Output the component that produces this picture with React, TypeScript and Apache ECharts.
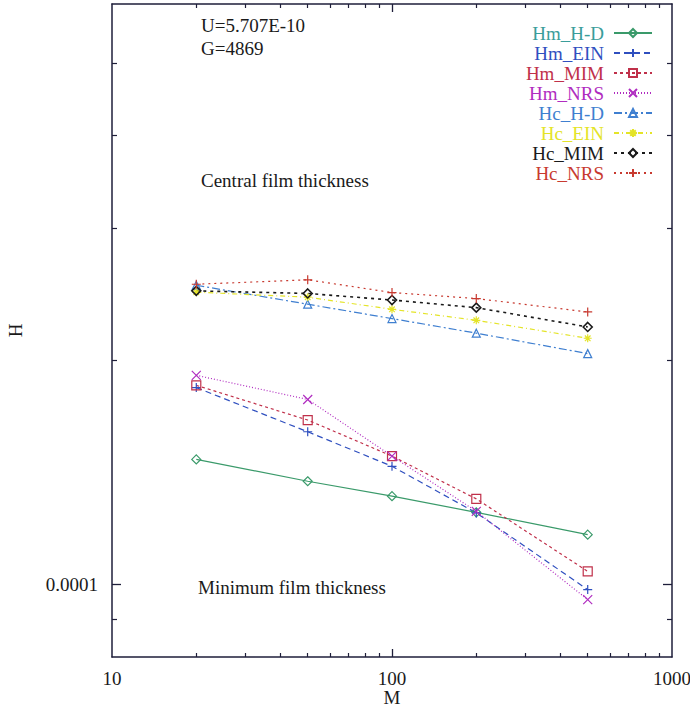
import React, { useEffect, useRef } from "react";
import * as echarts from "echarts";

// ---- data ----
const M = [20, 50, 100, 200, 500];
const hmHD = [1.472e-4, 1.376e-4, 1.314e-4, 1.25e-4, 1.167e-4];
const hmEIN = [1.837e-4, 1.603e-4, 1.441e-4, 1.248e-4, 0.985e-4];
const hmMIM = [1.85e-4, 1.662e-4, 1.487e-4, 1.303e-4, 1.042e-4];
const hmNRS = [1.908e-4, 1.771e-4, 1.487e-4, 1.254e-4, 0.955e-4];
const hcHD = [2.519e-4, 2.376e-4, 2.273e-4, 2.173e-4, 2.04e-4];
const hcEIN = [2.466e-4, 2.428e-4, 2.339e-4, 2.261e-4, 2.139e-4];
const hcMIM = [2.476e-4, 2.456e-4, 2.407e-4, 2.351e-4, 2.215e-4];
const hcNRS = [2.527e-4, 2.562e-4, 2.463e-4, 2.418e-4, 2.32e-4];

const seriesNames = ["Hm_H-D", "Hm_EIN", "Hm_MIM", "Hm_NRS", "Hc_H-D", "Hc_EIN", "Hc_MIM", "Hc_NRS"];
const seriesValues = [hmHD, hmEIN, hmMIM, hmNRS, hcHD, hcEIN, hcMIM, hcNRS];

const xLabelTicks = [10, 100, 1000];
const xMajorTicks = [100];
const xMinorTicks = [20, 30, 40, 50, 60, 70, 80, 90, 200, 300, 400, 500, 600, 700, 800, 900];
const yLabelTicks = [1e-4];
const yMajorTicks = [1e-4];
const yMinorTicks = [9e-5, 2e-4, 3e-4, 4e-4, 5e-4];

const annotations = [
  { text: "U=5.707E-10", x: 201, y: 25 },
  { text: "G=4869", x: 201, y: 48 },
  { text: "Central film thickness", x: 201, y: 180 },
  { text: "Minimum film thickness", x: 198, y: 587 },
];

// ---- styles ----
const SYM = {
  diamond: "path://M5,0L10,5L5,10L0,5Z",
  plus: "path://M5,0L5,10M0,5L10,5",
  square: "path://M0,0L10,0L10,10L0,10Z",
  cross: "path://M0,0L10,10M10,0L0,10",
  triangle: "path://M5,0L10,9L0,9Z",
  star: "path://M5,0L5,10M0,5L10,5M1.5,1.5L8.5,8.5M8.5,1.5L1.5,8.5",
};

const styles: any[] = [
  { line: "#3a9a6a", text: "#3a9d9a", sym: SYM.diamond, dash: "solid", size: 9, w: 1.2 },
  { line: "#2f4fbf", text: "#2f4fbf", sym: SYM.plus, dash: [6, 4], size: 9, w: 1.2 },
  { line: "#c0304a", text: "#c0304a", sym: SYM.square, dash: [3, 3], size: 9, w: 1.2 },
  { line: "#b02cc0", text: "#b02cc0", sym: SYM.cross, dash: [1, 2], size: 9, w: 1.2 },
  { line: "#3f7fd0", text: "#3f7fd0", sym: SYM.triangle, dash: [8, 3, 2, 3], size: 8, w: 1.2 },
  { line: "#e4e428", text: "#e4e428", sym: SYM.star, dash: [5, 3, 1, 3], size: 8, w: 1.2 },
  { line: "#1a1a1a", text: "#1a1a1a", sym: SYM.diamond, dash: [3, 4], size: 9, w: 1.6 },
  { line: "#c83a30", text: "#c83a30", sym: SYM.plus, dash: [2, 4], size: 9, w: 1.2 },
];

const FONT = '"Liberation Serif", "Times New Roman", serif';
const INK = "#1a1a1a";
const FRAME = "#1e1e3a";

export default function App() {
  const ref = useRef<HTMLDivElement>(null);

  useEffect(() => {
    if (!ref.current) return;
    const chart = echarts.init(ref.current, undefined, { renderer: "svg" });

    const xBase = { type: "log", logBase: 10, min: 10, max: 1000, gridIndex: 0, splitLine: { show: false } };
    const yBase = { type: "log", logBase: 10, min: 8e-5, max: 6e-4, gridIndex: 0, splitLine: { show: false } };
    const lineOn = { show: true, lineStyle: { color: FRAME, width: 1.5 } };
    const lineOff = { show: false };

    const xAxis: any[] = [
      {
        ...xBase,
        position: "bottom",
        axisLine: lineOn,
        axisTick: { show: true, inside: true, length: 8, customValues: xMajorTicks, lineStyle: { color: FRAME, width: 1.3 } },
        axisLabel: {
          show: true,
          customValues: xLabelTicks,
          margin: 12,
          fontFamily: FONT,
          fontSize: 19,
          color: INK,
          formatter: (v: number) => String(Math.round(v)),
        },
        name: "M",
        nameLocation: "middle",
        nameGap: 31,
        nameMoveOverlap: false,
        nameTextStyle: { fontFamily: FONT, fontSize: 19, color: INK },
      },
      {
        ...xBase,
        position: "bottom",
        axisLine: lineOff,
        axisTick: { show: true, inside: true, length: 4, customValues: xMinorTicks, lineStyle: { color: FRAME, width: 1.2 } },
        axisLabel: { show: false },
      },
      {
        ...xBase,
        position: "top",
        axisLine: lineOn,
        axisTick: { show: true, inside: true, length: 8, customValues: xMajorTicks, lineStyle: { color: FRAME, width: 1.3 } },
        axisLabel: { show: false },
      },
      {
        ...xBase,
        position: "top",
        axisLine: lineOff,
        axisTick: { show: true, inside: true, length: 4, customValues: xMinorTicks, lineStyle: { color: FRAME, width: 1.2 } },
        axisLabel: { show: false },
      },
    ];

    const yAxis: any[] = [
      {
        ...yBase,
        position: "left",
        axisLine: lineOn,
        axisTick: { show: true, inside: true, length: 9, customValues: yMajorTicks, lineStyle: { color: FRAME, width: 1.3 } },
        axisLabel: {
          show: true,
          customValues: yLabelTicks,
          margin: 14,
          fontFamily: FONT,
          fontSize: 19,
          color: INK,
          formatter: (v: number) => (Math.abs(v - 1e-4) < 1e-9 ? "0.0001" : String(v)),
        },
        name: "H",
        nameLocation: "middle",
        nameGap: 87,
        nameRotate: 90,
        nameMoveOverlap: false,
        nameTextStyle: { fontFamily: FONT, fontSize: 19, color: INK },
      },
      {
        ...yBase,
        position: "left",
        axisLine: lineOff,
        axisTick: { show: true, inside: true, length: 5, customValues: yMinorTicks, lineStyle: { color: FRAME, width: 1.2 } },
        axisLabel: { show: false },
      },
      {
        ...yBase,
        position: "right",
        axisLine: lineOn,
        axisTick: { show: true, inside: true, length: 9, customValues: yMajorTicks, lineStyle: { color: FRAME, width: 1.3 } },
        axisLabel: { show: false },
      },
      {
        ...yBase,
        position: "right",
        axisLine: lineOff,
        axisTick: { show: true, inside: true, length: 5, customValues: yMinorTicks, lineStyle: { color: FRAME, width: 1.2 } },
        axisLabel: { show: false },
      },
    ];

    const series: any[] = seriesNames.map((name, i) => {
      const s = styles[i];
      return {
        name,
        type: "line",
        xAxisIndex: 0,
        yAxisIndex: 0,
        data: M.map((m, j) => [m, seriesValues[i][j]]),
        symbol: s.sym,
        symbolSize: s.size,
        showSymbol: true,
        lineStyle: { color: s.line, width: s.w, type: s.dash },
        itemStyle: { color: "rgba(255,255,255,0)", borderColor: s.line, borderWidth: s.w },
        z: 3,
      };
    });

    const option: any = {
      animation: false,
      backgroundColor: "#ffffff",
      grid: { left: 112, right: 18, top: 4, bottom: 51, containLabel: false, outerBoundsMode: "none" },
      xAxis,
      yAxis,
      series,
      legend: {
        orient: "vertical",
        right: 37,
        top: 23,
        padding: 0,
        align: "right",
        itemWidth: 38,
        itemHeight: 10,
        itemGap: 0,
        selectedMode: false,
        textStyle: { fontFamily: FONT, fontSize: 19, lineHeight: 20, padding: [0, 5, 0, 0] },
        data: seriesNames.map((n, i) => ({ name: n, textStyle: { color: styles[i].text } })),
      },
      graphic: annotations.map((a) => ({
        type: "text",
        x: a.x,
        y: a.y,
        style: { text: a.text, fontFamily: FONT, fontSize: 19, fill: INK, verticalAlign: "middle", align: "left" },
      })),
    };

    chart.setOption(option);
    return () => chart.dispose();
  }, []);

  return (
    <div
      ref={ref}
      style={{ position: "fixed", left: 0, top: 0, width: "690px", height: "708px", background: "#fff" }}
    />
  );
}
